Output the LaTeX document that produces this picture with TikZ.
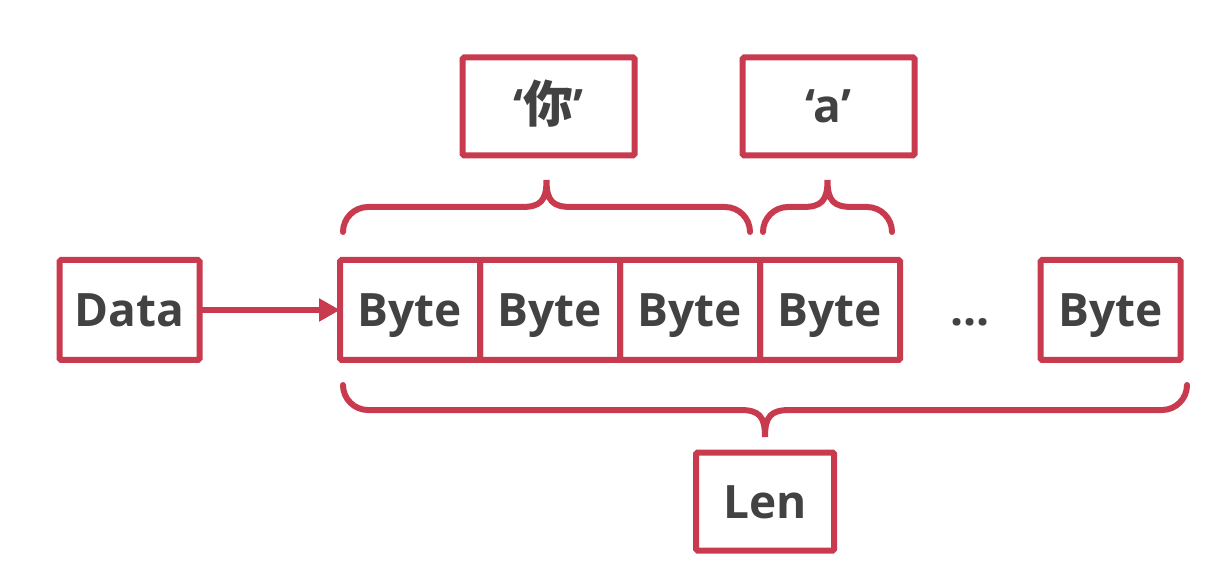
\documentclass[tikz,border=0pt]{standalone}
\usepackage{fontspec}
\setmainfont{Open Sans}
\newfontfamily\cjk{Noto Sans CJK SC}
\usetikzlibrary{positioning,arrows.meta}
\definecolor{boxred}{HTML}{C83A4E}
\definecolor{inkgray}{HTML}{424242}
\tikzset{
  cell/.style={draw=boxred, line width=6pt, rounded corners=1.5pt,
    minimum width=140pt, minimum height=100pt, outer sep=0pt, inner sep=0pt,
    text=inkgray, text height=33pt, text depth=0pt,
    font=\fontsize{46}{46}\selectfont\bfseries},
  label/.style={text=inkgray, font=\fontsize{46}{46}\selectfont\bfseries},
  brace/.style={draw=boxred, line width=6pt, line cap=round},
  link/.style={draw=boxred, line width=6pt, -{Triangle[length=21pt,width=22pt]}}
}
% curly brace: left x, right x, y of the ends, 1 = tip up / -1 = tip down
\newcommand{\curly}[4]{%
  \begin{scope}[shift={(#1,#3)}, yscale=#4]
    \pgfmathsetmacro\bw{#2-#1}\pgfmathsetmacro\bm{\bw/2}
    \draw[brace] (0,0) arc[start angle=180, end angle=90, radius=25]
      -- (\bm-25,25) .. controls (\bm-6,25) and (\bm,31) .. (\bm,52)
      .. controls (\bm,31) and (\bm+6,25) .. (\bm+25,25)
      -- (\bw-25,25) arc[start angle=90, end angle=0, radius=25];
  \end{scope}}

\begin{document}
\begin{tikzpicture}[x=1pt, y=1pt]
  \useasboundingbox (0,0) rectangle (1224,571);

  \node[cell] (data) at (129.5,261) {Data};
  \node[cell] (b1) at (410,261) {Byte};
  \node[cell] (b2) [right=0pt of b1] {Byte};
  \node[cell] (b3) [right=0pt of b2] {Byte};
  \node[cell] (b4) [right=0pt of b3] {Byte};
  \node[label, anchor=base] (dots) at (970,245) {...};
  \node[cell] (bn) at (1110.5,261) {Byte};

  \node[cell, minimum width=172pt, minimum height=98pt] (ni) at (548.5,464.5) {‘{\cjk\fontsize{50}{50}\selectfont 你}’};
  \node[cell, minimum width=172pt, minimum height=98pt] (a) at (828.5,464.5) {‘a’};
  \node[cell, minimum width=138pt, minimum height=98pt] (len) at (765,69.5) {Len};

  \draw[link] (data) -- (b1);

  \curly{343}{750}{339}{1}
  \curly{763}{892}{339}{1}
  \curly{343}{1187}{186}{-1}
\end{tikzpicture}
\end{document}
